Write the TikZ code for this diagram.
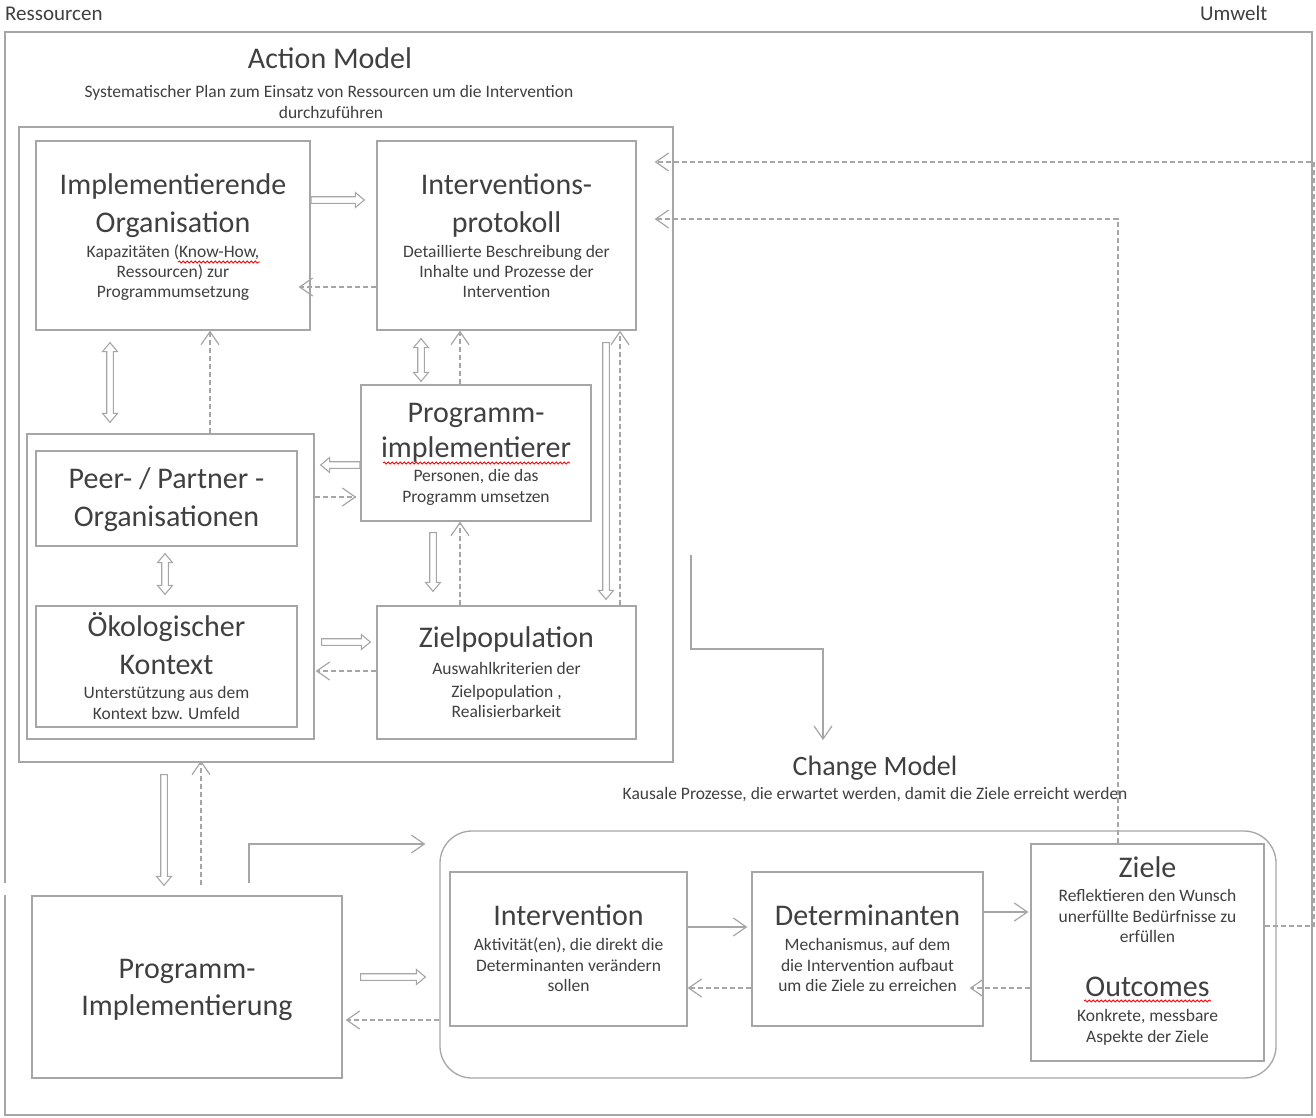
\documentclass[tikz,border=0pt]{standalone}
\usepackage{fontspec}
\setmainfont{Carlito}
\usetikzlibrary{arrows.meta,decorations.pathmorphing,calc}
\definecolor{tc}{HTML}{404040}
\definecolor{lc}{HTML}{A6A6A6}
\tikzset{
  bb/.tip={Straight Barb[length=13pt,width=18pt,line width=1.2pt]},
  box/.style={draw=lc,line width=1.3pt,inner sep=0pt,fill=white},
  ttl/.style={text=tc,font=\fontsize{30}{36}\selectfont,anchor=base,inner sep=0pt},
  dsc/.style={text=tc,font=\fontsize{17.5}{21}\selectfont,anchor=base,inner sep=0pt},
  lbl/.style={text=tc,font=\fontsize{21}{25}\selectfont,anchor=base west,inner sep=0pt},
  dsh/.style={draw=lc,line width=1.2pt,dash pattern=on 5pt off 3pt,-{bb}},
  sol/.style={draw=lc,line width=1.2pt,-{bb}},
  blk/.style 2 args={draw=lc,line width=1.1pt,fill=white,line join=miter,to path={
    ($(\tikztostart)!#1!(\tikztotarget)$) coordinate (bS)
    ($(\tikztotarget)!#2!(\tikztostart)$) coordinate (bE)
    ($(bE)!9pt!(bS)$) coordinate (bH)
    ($(bS)!3.3pt!90:(bE)$) -- ($(bH)!3.3pt!-90:(bS)$) -- ($(bH)!7.5pt!-90:(bS)$) -- (bE)
    -- ($(bH)!7.5pt!90:(bS)$) -- ($(bH)!3.3pt!90:(bS)$) -- ($(bS)!3.3pt!-90:(bE)$) -- cycle}},
  blktwo/.style 2 args={draw=lc,line width=1.1pt,fill=white,line join=miter,to path={
    ($(\tikztostart)!#1!(\tikztotarget)$) coordinate (bS)
    ($(\tikztotarget)!#2!(\tikztostart)$) coordinate (bE)
    ($(bE)!9pt!(bS)$) coordinate (bH)
    ($(bS)!9pt!(bE)$) coordinate (bT)
    ($(bT)!3.3pt!90:(bE)$) -- ($(bH)!3.3pt!-90:(bS)$) -- ($(bH)!7.5pt!-90:(bS)$) -- (bE)
    -- ($(bH)!7.5pt!90:(bS)$) -- ($(bH)!3.3pt!90:(bS)$) -- ($(bT)!3.3pt!-90:(bE)$)
    -- ($(bT)!7.5pt!-90:(bE)$) -- (bS) -- ($(bT)!7.5pt!90:(bE)$) -- cycle}},
  wavy/.style={draw=red,line width=0.8pt,decorate,decoration={snake,amplitude=1.1pt,segment length=4pt}},
}
\begin{document}
\begin{tikzpicture}[x=1pt,y=-1pt]
\useasboundingbox (0,0) rectangle (1316,1117);
\fill[white] (0,0) rectangle (1316,1117);

% outer frame
\draw[draw=lc,line width=1.3pt] (5,883) -- (5,32) -- (1312,32) -- (1312,1115) -- (5,1115) -- (5,895);
\node[lbl] (ress) at (5,20) {Ressourcen};
\node[lbl] (umw) at (1200,20) {Umwelt};

% action model
\node[ttl] (amt) at (330,68) {Action Model};
\node[dsc] (ams1) at (329,97) {Systematischer Plan zum Einsatz von Ressourcen um die Intervention};
\node[dsc] (ams2) at (331,118) {durchzuführen};
\node[box,minimum width=654,minimum height=635] (am) at (346,444.5) {};

\node[box,minimum width=274,minimum height=189] (io) at (173,235.5) {};
\node[box,minimum width=259,minimum height=189] (ip) at (506.5,235.5) {};
\node[box,minimum width=230,minimum height=136] (pi) at (476,453) {};
\node[box,minimum width=287,minimum height=305] (grp) at (170.5,586.5) {};
\node[box,minimum width=261,minimum height=95] (peer) at (166.5,498.5) {};
\node[box,minimum width=261,minimum height=121] (oek) at (166.5,666.5) {};
\node[box,minimum width=259,minimum height=133] (zp) at (506.5,672.5) {};

\node[ttl] (io1) at (173,194) {Implementierende};
\node[ttl] (io2) at (173,232) {Organisation};
\node[dsc] (io3) at (173,257) {Kapazitäten (Know-How,};
\node[dsc] (io4) at (173,277) {Ressourcen) zur};
\node[dsc] (io5) at (173,297) {Programmumsetzung};

\node[ttl] (ip1) at (506.5,194) {Interventions-};
\node[ttl] (ip2) at (506.5,232) {protokoll};
\node[dsc] (ip3) at (506.5,257) {Detaillierte Beschreibung der};
\node[dsc] (ip4) at (506.5,277) {Inhalte und Prozesse der};
\node[dsc] (ip5) at (506.5,297) {Intervention};

\node[ttl] (pi1) at (476,422) {Programm-};
\node[ttl] (pi2) at (476,457) {implementierer};
\node[dsc] (pi3) at (476,481) {Personen, die das};
\node[dsc] (pi4) at (476,502) {Programm umsetzen};

\node[ttl] (pe1) at (166.5,488) {Peer- / Partner -};
\node[ttl] (pe2) at (166.5,526) {Organisationen};

\node[ttl] (ok1) at (166.5,636) {Ökologischer};
\node[ttl] (ok2) at (166.5,674) {Kontext};
\node[dsc] (ok3) at (166.5,698) {Unterstützung aus dem};
\node[dsc] (ok4) at (166.5,719) {Kontext bzw. Umfeld};

\node[ttl] (zp1) at (506.5,647) {Zielpopulation};
\node[dsc] (zp2) at (506.5,674) {Auswahlkriterien der};
\node[dsc] (zp3) at (506.5,697) {Zielpopulation ,};
\node[dsc] (zp4) at (506.5,717) {Realisierbarkeit};

% change model
\node[ttl,font=\fontsize{28}{34}\selectfont] (cmt) at (875,775) {Change Model};
\node[dsc] (cms) at (875,799) {Kausale Prozesse, die erwartet werden, damit die Ziele erreicht werden};
\node[draw=lc,line width=1.3pt,rounded corners=32pt,minimum width=836,minimum height=247,inner sep=0pt] (cm) at (858,954.5) {};
\node[box,minimum width=237,minimum height=154] (int) at (568.5,949) {};
\node[box,minimum width=231,minimum height=154] (det) at (867.5,949) {};
\node[box,minimum width=233,minimum height=217] (ziele) at (1147.5,952.5) {};
\node[box,minimum width=310,minimum height=182] (pimpl) at (187,987) {};

\node[ttl] (pm1) at (187,978) {Programm-};
\node[ttl] (pm2) at (187,1015) {Implementierung};

\node[ttl] (in1) at (568.5,925) {Intervention};
\node[dsc] (in2) at (568.5,950) {Aktivität(en), die direkt die};
\node[dsc] (in3) at (568.5,971) {Determinanten verändern};
\node[dsc] (in4) at (568.5,991) {sollen};

\node[ttl] (de1) at (867.5,925) {Determinanten};
\node[dsc] (de2) at (867.5,950) {Mechanismus, auf dem};
\node[dsc] (de3) at (867.5,971) {die Intervention aufbaut};
\node[dsc] (de4) at (867.5,991) {um die Ziele zu erreichen};

\node[ttl] (zi1) at (1147.5,877) {Ziele};
\node[dsc] (zi2) at (1147.5,901) {Reflektieren den Wunsch};
\node[dsc] (zi3) at (1147.5,922) {unerfüllte Bedürfnisse zu};
\node[dsc] (zi4) at (1147.5,942) {erfüllen};
\node[ttl] (zi5) at (1147.5,996) {Outcomes};
\node[dsc] (zi6) at (1147.5,1021) {Konkrete, messbare};
\node[dsc] (zi7) at (1147.5,1042) {Aspekte der Ziele};

% spell-check underlines
\draw[wavy] (178,262) -- (260,262);
\draw[wavy] (383,463) -- (570,463);
\draw[wavy] (1084,1001) -- (1211,1001);

% hollow block arrows
\draw[blk={0.5pt}{12pt}] (io.east |- 0,200) to (ip.west |- 0,200);
\draw[blktwo={12pt}{11pt}] (io.south -| 110,0) to (grp.north -| 110,0);
\draw[blktwo={8pt}{3pt}] (ip.south -| 421,0) to (pi.north -| 421,0);
\draw[blk={0.5pt}{6pt}] (pi.west |- 0,465) to (grp.east |- 0,465);
\draw[blktwo={7pt}{11pt}] (peer.south -| 165,0) to (oek.north -| 165,0);
\draw[blk={11pt}{14pt}] (pi.south -| 433,0) to (zp.north -| 433,0);
\draw[blk={12pt}{6pt}] (ip.south -| 606,0) to (zp.north -| 606,0);
\draw[blk={7pt}{6pt}] (grp.east |- 0,642) to (zp.west |- 0,642);
\draw[blk={12pt}{10pt}] (am.south -| 164,0) to (pimpl.north -| 164,0);
\draw[blk={18pt}{14pt}] (pimpl.east |- 0,977) to (cm.west |- 0,977);

% dashed arrows
\draw[dsh,shorten >=-12pt] (ip.west |- 0,287) -- (io.east |- 0,287);
\draw[dsh] (grp.north -| 210,0) -- (io.south -| 210,0);
\draw[dsh] (pi.north -| 460,0) -- (ip.south -| 460,0);
\draw[dsh,shorten >=4pt] (grp.east |- 0,497) -- (pi.west |- 0,497);
\draw[dsh] (zp.north -| 460,0) -- (pi.south -| 460,0);
\draw[dsh] (zp.north -| 620,0) -- (ip.south -| 620,0);
\draw[dsh,shorten >=1pt] (zp.west |- 0,671) -- (grp.east |- 0,671);
\draw[dsh,shorten <=10pt,shorten >=-2pt] (pimpl.north -| 201,0) -- (am.south -| 201,0);
\draw[dsh,shorten >=3pt] (cm.west |- 0,1020) -- (pimpl.east |- 0,1020);
\draw[dsh] (det.west |- 0,988) -- (int.east |- 0,988);
\draw[dsh,shorten >=-14pt] (ziele.west |- 0,988) -- (det.east |- 0,988);
\coordinate (rc) at (1314,162);
\draw[dsh,shorten >=-19pt] (ziele.east |- 0,926) -| (rc) -- (am.east |- rc);
\draw[dsh,shorten >=-19pt] (ziele.north -| 1118,0) |- (am.east |- 0,219);

% solid arrows
\coordinate (cs) at (691,555);
\coordinate (ce) at (823,740);
\draw[sol] (cs) -- (cs |- 0,649) -| (ce);
\draw[sol,shorten <=12pt,shorten >=14pt] (pimpl.north -| 249,0) |- (cm.west |- 0,844);
\draw[sol,shorten >=4pt] (int.east |- 0,927) -- (det.west |- 0,927);
\draw[sol,shorten >=2pt] (det.east |- 0,912) -- (ziele.west |- 0,912);
\end{tikzpicture}
\end{document}
